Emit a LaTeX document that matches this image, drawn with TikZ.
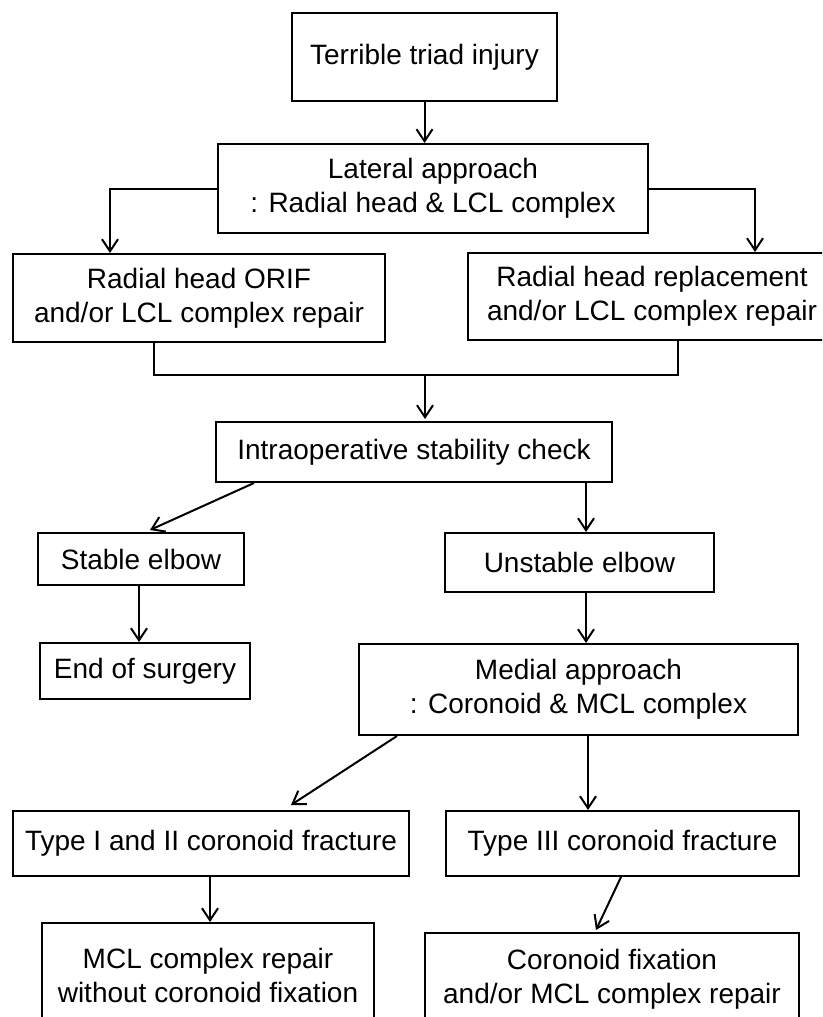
\documentclass[tikz,border=0pt]{standalone}
\usepackage{fontspec}
\setmainfont{Liberation Sans}
\usetikzlibrary{arrows.meta}
\begin{document}
\begin{tikzpicture}[x=1pt,y=-1pt,
  box/.style={draw=black,line width=2pt,inner sep=0pt,align=center,font=\fontsize{28}{34}\selectfont},
  arr/.style={line width=2pt,-{Straight Barb[length=12pt,width=16pt,line width=2pt]}},
  ln/.style={line width=2pt}]
\fill[white] (0,0) rectangle (822,1017);
\clip (0,0) rectangle (822,1017);
\node[box,minimum width=265pt,minimum height=88pt] (b1) at (424.5,57) {Terrible triad injury};
\node[box,minimum width=430pt,minimum height=89pt] (b2) at (433,188.5) {Lateral approach\\: Radial head \& LCL complex};
\node[box,minimum width=372pt,minimum height=88pt] (b3) at (199,298) {Radial head ORIF\\and/or LCL complex repair};
\node[box,minimum width=368pt,minimum height=87pt] (b4) at (652,296.5) {Radial head replacement\\and/or LCL complex repair};
\node[box,minimum width=396pt,minimum height=60pt] (b6) at (414,452) {Intraoperative stability check};
\node[box,minimum width=206pt,minimum height=52pt] (b7) at (141,559) {Stable elbow};
\node[box,minimum width=269pt,minimum height=59pt] (b8) at (579.5,562.5) {Unstable elbow};
\node[box,minimum width=210pt,minimum height=56pt] (b9) at (145,671) {End of surgery};
\node[box,minimum width=439pt,minimum height=91pt] (b10) at (578.5,689.5) {Medial approach\\: Coronoid \& MCL complex};
\node[box,minimum width=396pt,minimum height=65pt] (b11) at (211,843.5) {Type I and II coronoid fracture};
\node[box,minimum width=353pt,minimum height=65pt] (b12) at (622.5,843.5) {Type III coronoid fracture};
\node[box,minimum width=332pt,minimum height=104pt] (b13) at (208,975) {MCL complex repair\\without coronoid fixation};
\node[box,minimum width=374pt,minimum height=92pt] (b14) at (612,979) {Coronoid fixation\\and/or MCL complex repair};

\coordinate (x110) at (110,0);
\coordinate (x755) at (755,0);
\coordinate (jl) at (154,375);
\coordinate (jr) at (678,375);
\coordinate (jm) at (425,375);
\coordinate (v1) at (586,0);
\coordinate (v2) at (139,0);
\coordinate (v3) at (588,0);
\coordinate (v4) at (210,0);

\draw[arr] (b1.south -| b1.south) -- (b2.north -| b1.south);
\draw[arr] (b2.west) -| (b3.north -| x110);
\draw[arr] (b2.east) -| (b4.north -| x755);
\draw[ln] (b3.south -| jl) -- (jl) -- (jr) -- (b4.south -| jr);
\draw[arr] (jm) -- ([yshift=2pt]b6.north -| jm);
\draw[arr] ([xshift=-160pt]b6.south) -- ([xshift=9pt,yshift=2pt]b7.north);
\draw[arr] (b6.south -| v1) -- (b8.north -| v1);
\draw[arr] (b7.south -| v2) -- (b9.north -| v2);
\draw[arr] (b8.south -| v1) -- (b10.north -| v1);
\draw[arr] ([xshift=-181.5pt]b10.south) -- ([xshift=80pt,yshift=5pt]b11.north);
\draw[arr] (b10.south -| v3) -- (b12.north -| v3);
\draw[arr] (b11.south -| v4) -- (b13.north -| v4);
\draw[arr] ([xshift=-1.5pt]b12.south) -- ([xshift=-16pt,yshift=2pt]b14.north);
\end{tikzpicture}
\end{document}
